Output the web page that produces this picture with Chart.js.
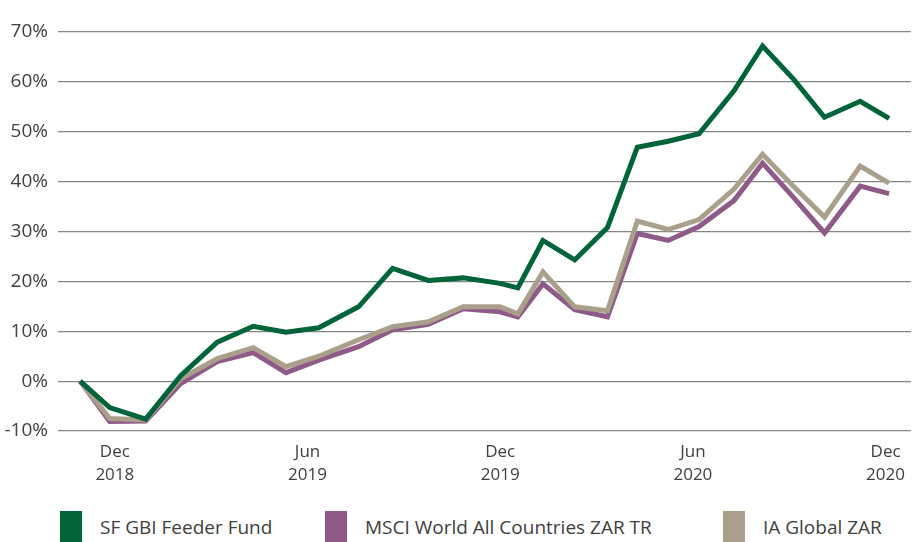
<!DOCTYPE html>
<html>
<head>
<meta charset="utf-8">
<script src="https://cdn.jsdelivr.net/npm/chart.js@4.4.0/dist/chart.umd.min.js"></script>
<style>
  html, body { margin: 0; padding: 0; background: #fff; }
  #wrap { position: relative; width: 915px; height: 542px; }
  #chart-box { position: absolute; left: 0; top: 0; width: 915px; height: 500px; }
  #legend { position: absolute; left: 0; top: 511px; width: 915px; height: 31px;
    font-family: "Open Sans", sans-serif; font-size: 19px; color: #404040; }
  .legend-item { position: absolute; top: 0; height: 31px; display: flex; align-items: center; white-space: nowrap; }
  .legend-swatch { width: 22px; height: 31px; margin-right: 18px; }
</style>
</head>
<body>
<div id="wrap">
  <div id="chart-box"><canvas id="perf-chart"></canvas></div>
  <div id="legend"></div>
</div>
<script>
// cumulative performance, in %

const seriesNames = ["SF GBI Feeder Fund", "MSCI World All Countries ZAR TR", "IA Global ZAR"];
const seriesColors = ["#00643a", "#8e5a88", "#aa9f8a"];

// x position of each observation, in months from Dec 2018
const monthPos = [
  -1.08, -0.16, 0.96, 2.05, 3.19, 4.31, 5.33, 6.35, 7.59, 8.65, 9.76, 10.85, 11.99,
  12.55, 13.33, 14.32, 15.34, 16.27, 17.23, 18.19, 19.28, 20.17, 21.14, 22.10, 23.21, 24.11,
];

const fundValues = [
  0, -5.3, -7.6, 1.1, 7.8, 11.0, 9.8, 10.7, 14.9, 22.6, 20.2, 20.7, 19.6,
  18.7, 28.2, 24.3, 30.8, 46.9, 48.1, 49.6, 58.2, 67.2, 60.5, 52.9, 56.1, 52.7,
];
const msciValues = [
  0, -8.1, -8.0, -0.5, 3.9, 5.7, 1.7, 4.2, 6.9, 10.3, 11.4, 14.5, 13.9,
  12.9, 19.5, 14.3, 12.9, 29.6, 28.2, 31.0, 36.2, 43.7, 36.8, 29.7, 39.1, 37.6,
];
const iaValues = [
  0, -7.5, -7.8, 0.5, 4.5, 6.7, 2.9, 5.0, 8.3, 10.9, 11.9, 14.9, 14.9,
  13.5, 21.9, 14.9, 14.1, 32.1, 30.4, 32.4, 38.5, 45.5, 39.0, 32.9, 43.1, 39.7,
];

const tickMonths = [0, 6, 12, 18, 24];
const tickLabels = [["Dec", "2018"], ["Jun", "2019"], ["Dec", "2019"], ["Jun", "2020"], ["Dec", "2020"]];
const yTicks = [-10, 0, 10, 20, 30, 40, 50, 60, 70];

function toPoints(values) {
  return values.map((v, i) => ({ x: monthPos[i], y: v }));
}

const allValues = [fundValues, msciValues, iaValues];
// fund on top, then IA, then MSCI underneath
const drawOrder = [0, 2, 1];

const datasets = seriesNames.map((name, i) => ({
  label: name,
  data: toPoints(allValues[i]),
  borderColor: seriesColors[i],
  backgroundColor: seriesColors[i],
  borderWidth: 5,
  borderJoinStyle: "miter",
  pointRadius: 0,
  tension: 0,
  order: drawOrder[i],
}));

const textColor = "#404040";

const ctx = document.getElementById("perf-chart").getContext("2d");
new Chart(ctx, {
  type: "line",
  data: { datasets: datasets },
  options: {
    responsive: true,
    maintainAspectRatio: false,
    animation: false,
    layout: { padding: { top: 32, right: 0, bottom: 0, left: 0 } },
    plugins: {
      legend: { display: false },
      tooltip: { enabled: false },
    },
    scales: {
      x: {
        type: "linear",
        min: -1.77,
        max: 24.79,
        grid: { display: false, drawTicks: false },
        border: { display: false },
        afterBuildTicks: (s) => {
          s.ticks = tickMonths.map((v) => ({ value: v }));
        },
        afterFit: (s) => {
          s.height = 69;
        },
        ticks: {
          autoSkip: false,
          maxRotation: 0,
          padding: 10,
          color: textColor,
          font: { family: "Open Sans", size: 17, lineHeight: 1.35 },
          callback: (v) => {
            const k = tickMonths.indexOf(v);
            return k >= 0 ? tickLabels[k] : "";
          },
        },
      },
      y: {
        min: -10,
        max: 70,
        afterBuildTicks: (s) => {
          s.ticks = yTicks.map((v) => ({ value: v }));
        },
        afterFit: (s) => {
          s.width = 58;
        },
        grid: { color: "#858585", lineWidth: 1.2, drawTicks: false },
        border: { display: false },
        ticks: {
          padding: 10,
          color: textColor,
          font: { family: "Open Sans", size: 19 },
          callback: (v) => v + "%",
        },
      },
    },
  },
});

// legend below the chart
const legendLeft = [60, 325, 723];
const legendEl = document.getElementById("legend");
legendEl.innerHTML = seriesNames
  .map(
    (name, i) => `
    <div class="legend-item" style="left:${legendLeft[i]}px">
      <span class="legend-swatch" style="background:${seriesColors[i]}"></span>
      <span>${name}</span>
    </div>`,
  )
  .join("");
</script>
</body>
</html>
